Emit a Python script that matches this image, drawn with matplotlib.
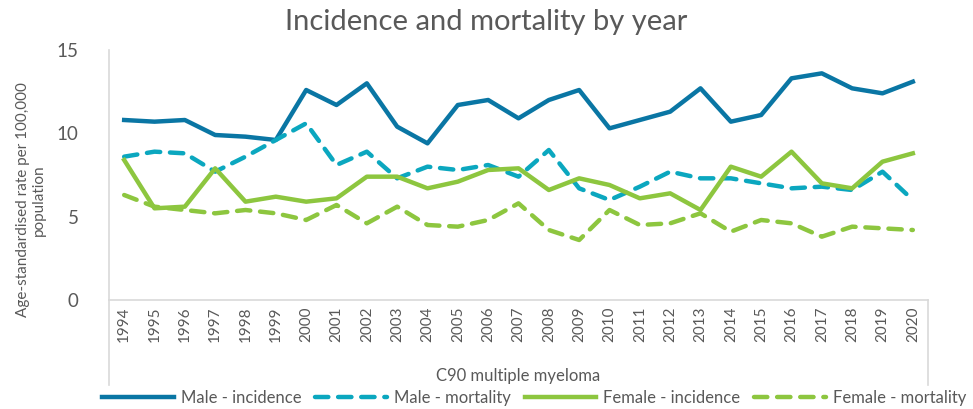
import matplotlib.pyplot as plt
from matplotlib.lines import Line2D

plt.rcParams["font.family"] = ["Lato", "DejaVu Sans"]

years = [str(y) for y in range(1994, 2021)]
male_incidence = [10.8, 10.7, 10.8, 9.9, 9.8, 9.6, 12.6, 11.7, 13.0, 10.4, 9.4, 11.7, 12.0, 10.9,
                  12.0, 12.6, 10.3, 10.8, 11.3, 12.7, 10.7, 11.1, 13.3, 13.6, 12.7, 12.4, 13.1]
male_mortality = [8.6, 8.9, 8.8, 7.7, 8.6, 9.6, 10.6, 8.1, 8.9, 7.3, 8.0, 7.8, 8.1, 7.4,
                  9.0, 6.7, 6.0, 6.8, 7.7, 7.3, 7.3, 7.0, 6.7, 6.8, 6.6, 7.7, 6.0]
female_incidence = [8.4, 5.5, 5.6, 7.9, 5.9, 6.2, 5.9, 6.1, 7.4, 7.4, 6.7, 7.1, 7.8, 7.9,
                    6.6, 7.3, 6.9, 6.1, 6.4, 5.4, 8.0, 7.4, 8.9, 7.0, 6.7, 8.3, 8.8]
female_mortality = [6.3, 5.6, 5.4, 5.2, 5.4, 5.2, 4.8, 5.7, 4.6, 5.6, 4.5, 4.4, 4.8, 5.8,
                    4.2, 3.6, 5.4, 4.5, 4.6, 5.2, 4.1, 4.8, 4.6, 3.8, 4.4, 4.3, 4.2]

dark_blue = "#0A76A4"
teal = "#0BA7BF"
green = "#8DC63F"
grey = "#595959"

fig = plt.figure(figsize=(9.73, 4.09), dpi=100)
ax = fig.add_axes([109 / 973, 1 - 300 / 409, (928 - 109) / 973, 250 / 409])

x = range(len(years))
lw = 3.2
dash = (0, (3.0, 2.2))
ax.plot(x, male_incidence, color=dark_blue, lw=lw, label="Male - incidence")
ax.plot(x, male_mortality, color=teal, lw=lw, ls=dash, dash_capstyle="round",
        label="Male - mortality")
ax.plot(x, female_incidence, color=green, lw=lw, label="Female - incidence")
ax.plot(x, female_mortality, color=green, lw=lw, ls=dash, dash_capstyle="round",
        label="Female - mortality")

ax.set_xlim(-0.5, len(years) - 0.5)
ax.set_ylim(0, 15)
ax.set_yticks([0, 5, 10, 15])
ax.tick_params(axis="y", length=0, labelsize=13.5, labelcolor=grey, pad=22)
ax.set_xticks(list(x))
ax.set_xticklabels(years, rotation=90, fontsize=11, color=grey)
ax.tick_params(axis="x", length=0, pad=5)

for side in ["top", "right"]:
    ax.spines[side].set_visible(False)
for side in ["left", "bottom"]:
    ax.spines[side].set_color("#D9D9D9")
    ax.spines[side].set_linewidth(1.2)

# multi-level category dividers
for xa in [0, 1]:
    ax.add_line(Line2D([xa, xa], [0, -0.34], transform=ax.transAxes, color="#D9D9D9",
                       lw=1.2, clip_on=False))
ax.text(0.5, -0.305, "C90 multiple myeloma", transform=ax.transAxes, ha="center",
        va="center", fontsize=12, color=grey)

fig.text(0.5, 1 - 22 / 409, "Incidence and mortality by year", ha="center", va="center",
         fontsize=21, color=grey)
fig.text(31 / 973, 1 - 200 / 409, "Age-standardised rate per 100,000\npopulation",
         rotation=90, ha="center", va="center", fontsize=11, color=grey,
         linespacing=1.15)

fig.legend(loc="center", bbox_to_anchor=(0.549, 1 - 398 / 409), ncol=4, frameon=False,
           fontsize=12, labelcolor=grey, handlelength=4.3, columnspacing=0.85,
           handletextpad=0.4, borderpad=0, borderaxespad=0)

fig.savefig("out.png", dpi=100)
